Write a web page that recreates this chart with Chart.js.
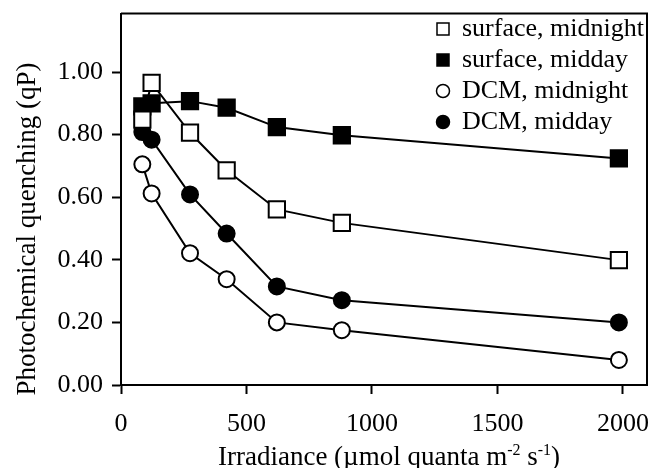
<!DOCTYPE html>
<html>
<head>
<meta charset="utf-8">
<script src="https://cdn.jsdelivr.net/npm/chart.js@4.4.1/dist/chart.umd.min.js"></script>
<style>
  html, body { margin: 0; padding: 0; background: #fff; }
  canvas { display: block; }
</style>
</head>
<body>
<canvas id="chart" width="661" height="468"></canvas>
<script>
// Data
const irradiance = [85, 122, 275, 421, 621, 880, 1984];
const surfaceMidnight = [0.848, 0.965, 0.806, 0.686, 0.561, 0.518, 0.399];
const surfaceMidday = [0.890, 0.900, 0.907, 0.886, 0.824, 0.798, 0.724];
const dcmMidnight = [0.705, 0.612, 0.421, 0.338, 0.200, 0.175, 0.080];
const dcmMidday = [0.808, 0.784, 0.609, 0.484, 0.315, 0.271, 0.200];
const seriesLabels = ['surface, midnight', 'surface, midday', 'DCM, midnight', 'DCM, midday'];
const xTickValues = [0, 500, 1000, 1500, 2000];
const yTickValues = [0, 0.2, 0.4, 0.6, 0.8, 1.0];
const yTitle = 'Photochemical quenching (qP)';
// x title pieces: [text, superscript?]
const xTitle = [['Irradiance (\u00b5mol quanta m', false], ['-2', true], [' s', false], ['-1', true], [')', false]];

const FONT = '"Liberation Serif", "Times New Roman", serif';

function pairs(ys) {
    return irradiance.map((x, i) => ({ x: x, y: ys[i] }));
}

function series(label, ys, style, filled) {
    return {
        label: label,
        data: pairs(ys),
        borderColor: '#000',
        borderWidth: 2,
        pointStyle: style,
        pointRadius: style === 'rect' ? 11.5 : 8,
        pointBorderWidth: 2,
        pointBorderColor: '#000',
        pointBackgroundColor: filled ? '#000' : '#fff',
        tension: 0
    };
}

// frame, legend and axis titles
const decorations = {
    id: 'decorations',
    afterDraw(chart) {
        const ctx = chart.ctx;
        const a = chart.chartArea;
        ctx.save();
        ctx.strokeStyle = '#000';
        ctx.lineWidth = 2;
        ctx.beginPath();
        ctx.moveTo(a.left, a.top);
        ctx.lineTo(a.right, a.top);
        ctx.lineTo(a.right, a.bottom);
        ctx.stroke();

        // legend
        ctx.font = '26px ' + FONT;
        ctx.fillStyle = '#000';
        ctx.textBaseline = 'alphabetic';
        ctx.textAlign = 'left';
        chart.data.datasets.forEach((ds, i) => {
            const cy = 29 + i * 31;
            const cx = 443;
            ctx.beginPath();
            if (ds.pointStyle === 'rect') {
                ctx.rect(cx - 6, cy - 6, 12, 12);
            } else {
                ctx.arc(cx, cy, 6.5, 0, Math.PI * 2);
            }
            ctx.fillStyle = ds.pointBackgroundColor;
            ctx.fill();
            ctx.lineWidth = 1.5;
            ctx.stroke();
            ctx.fillStyle = '#000';
            ctx.fillText(ds.label, 462, cy + 7);
        });

        // y title
        ctx.save();
        ctx.translate(35, 229);
        ctx.rotate(-Math.PI / 2);
        ctx.textAlign = 'center';
        ctx.font = '27px ' + FONT;
        ctx.fillText(yTitle, 0, 0);
        ctx.restore();

        // x title with superscripts
        const big = '27px ' + FONT, small = '16px ' + FONT;
        let total = 0;
        xTitle.forEach(([t, sup]) => {
            ctx.font = sup ? small : big;
            total += ctx.measureText(t).width;
        });
        let x = 389 - total / 2;
        xTitle.forEach(([t, sup]) => {
            ctx.font = sup ? small : big;
            ctx.fillText(t, x, sup ? 455 : 465);
            x += ctx.measureText(t).width;
        });
        ctx.restore();
    }
};

new Chart(document.getElementById('chart'), {
    type: 'line',
    data: {
        datasets: [
            series(seriesLabels[0], surfaceMidnight, 'rect', false),
            series(seriesLabels[1], surfaceMidday, 'rect', true),
            series(seriesLabels[2], dcmMidnight, 'circle', false),
            series(seriesLabels[3], dcmMidday, 'circle', true)
        ]
    },
    options: {
        responsive: false,
        animation: false,
        layout: { padding: { left: 0, top: 13, right: 14, bottom: 0 } },
        plugins: {
            legend: { display: false },
            tooltip: { enabled: false }
        },
        scales: {
            x: {
                type: 'linear',
                min: 0,
                max: 2096,
                afterBuildTicks: s => { s.ticks = xTickValues.map(v => ({ value: v })); },
                afterFit: s => { s.height = 83; s.paddingLeft = 0; s.paddingRight = 0; },
                ticks: {
                    color: '#000',
                    font: { family: FONT, size: 26 },
                    padding: 15,
                    maxRotation: 0,
                    autoSkip: false,
                    callback: v => String(v)
                },
                grid: { drawOnChartArea: false, tickLength: 9, tickWidth: 2, tickColor: '#000' },
                border: { color: '#000', width: 2 }
            },
            y: {
                min: 0,
                max: 1.187,
                afterBuildTicks: s => { s.ticks = yTickValues.map(v => ({ value: v })); },
                afterFit: s => { s.width = 121; s.paddingTop = 0; s.paddingBottom = 0; },
                ticks: {
                    color: '#000',
                    font: { family: FONT, size: 26 },
                    padding: 9,
                    autoSkip: false,
                    callback: v => v.toFixed(2)
                },
                grid: { drawOnChartArea: false, tickLength: 9, tickWidth: 2, tickColor: '#000' },
                border: { color: '#000', width: 2 }
            }
        }
    },
    plugins: [decorations]
});
</script>
</body>
</html>
